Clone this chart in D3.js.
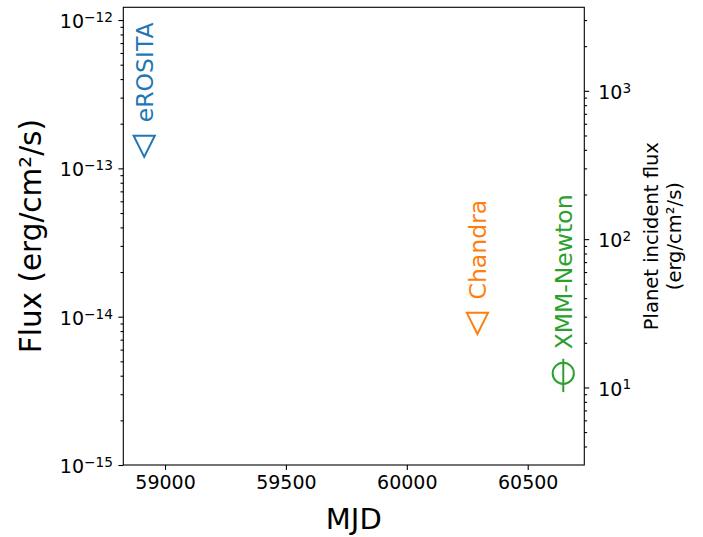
<!DOCTYPE html>
<html><head><meta charset="utf-8">
<script src="https://cdn.jsdelivr.net/npm/d3@7"></script>
<style>body{margin:0;background:#fff}svg{display:block;font-family:"DejaVu Sans",sans-serif}</style>
</head><body><svg id="c" width="703" height="537"></svg>
<script>
// Data
const instruments = ["eROSITA", "Chandra", "XMM-Newton"];
const mjd = [58914, 60292, 60647];
const flux = [1.41e-13, 9.0e-15, 4.15e-15];
const fluxErr = [0, 0, 1.05e-15];
const markers = ["triangle-down", "triangle-down", "circle"];
const colors = ["#1f77b4", "#ff7f0e", "#2ca02c"];
const xTicks = [59000, 59500, 60000, 60500];
const yMajor = [1e-15, 1e-14, 1e-13, 1e-12];
const yRMajor = [10, 100, 1000];
const fluxToPlanet = 3.0e15;

const svg = d3.select("#c");
const L = 123.3, R = 584.3, T = 7.3, B = 465;
const x = d3.scaleLinear().domain([58827.5, 60734]).range([L, R]);
const y = d3.scaleLog().domain([1e-15, Math.pow(10, -11.914)]).range([B, T]);
const yR = d3.scaleLog().domain(y.domain().map(v => v * fluxToPlanet)).range([B, T]);

function minors(scale) {
  const [a, b] = scale.domain();
  const out = [];
  for (let e = Math.floor(Math.log10(a)); e <= Math.ceil(Math.log10(b)); e++) {
    for (let m = 2; m <= 9; m++) {
      const v = m * Math.pow(10, e);
      if (v >= a && v <= b) out.push(v);
    }
  }
  return out;
}
const sup = e => String(e).replace("-", "\u2212");

// Axes
const tickFont = 19;
function styleAxis(g) {
  g.select(".domain").remove();
  g.selectAll("line").attr("stroke", "#000").attr("stroke-width", 1.1);
}
svg.append("g").attr("transform", `translate(${L},0)`)
  .call(d3.axisLeft(y).tickValues(minors(y)).tickSize(2.8).tickFormat(""))
  .call(styleAxis);
const gl = svg.append("g").attr("transform", `translate(${L},0)`)
  .call(d3.axisLeft(y).tickValues(yMajor).tickSize(4.9).tickPadding(5.5).tickFormat(""))
  .call(styleAxis);
gl.selectAll(".tick text").each(function(d) {
  const t = d3.select(this).attr("font-size", tickFont).attr("fill", "#000")
    .attr("font-family", "DejaVu Sans").attr("dy", "0.4em").text("");
  t.append("tspan").text("10");
  t.append("tspan").attr("dy", "-0.45em").attr("font-size", tickFont * 0.72).text(sup(Math.round(Math.log10(d))));
});
svg.append("g").attr("transform", `translate(${R},0)`)
  .call(d3.axisRight(yR).tickValues(minors(yR)).tickSize(2.8).tickFormat(""))
  .call(styleAxis);
const gr = svg.append("g").attr("transform", `translate(${R},0)`)
  .call(d3.axisRight(yR).tickValues(yRMajor).tickSize(4.9).tickPadding(9).tickFormat(""))
  .call(styleAxis);
gr.selectAll(".tick text").each(function(d) {
  const t = d3.select(this).attr("font-size", tickFont).attr("fill", "#000")
    .attr("font-family", "DejaVu Sans").attr("dy", "0.4em").text("");
  t.append("tspan").text("10");
  t.append("tspan").attr("dy", "-0.45em").attr("font-size", tickFont * 0.72).text(sup(Math.round(Math.log10(d))));
});
svg.append("g").attr("transform", `translate(0,${B})`)
  .call(d3.axisBottom(x).tickValues(xTicks).tickSize(4.9).tickPadding(6).tickFormat(d3.format("d")))
  .call(styleAxis)
  .call(g => g.selectAll("text").attr("font-size", tickFont).attr("fill", "#000").attr("font-family", "DejaVu Sans"));

// frame
svg.append("rect").attr("x", L).attr("y", T).attr("width", R - L).attr("height", B - T)
  .attr("fill", "none").attr("stroke", "#000").attr("stroke-width", 1.1);

// labels
svg.append("text").attr("x", (L + R) / 2).attr("y", 529).attr("text-anchor", "middle")
  .attr("font-size", 29).text("MJD");
svg.append("text").attr("transform", `translate(41,${(T + B) / 2}) rotate(-90)`).attr("text-anchor", "middle")
  .attr("font-size", 29.5).text("Flux (erg/cm\u00b2/s)");
const rl = svg.append("text").attr("transform", `translate(658,${(T + B) / 2}) rotate(-90)`).attr("text-anchor", "middle")
  .attr("font-size", 19.5);
rl.append("tspan").attr("x", 0).attr("dy", 0).text("Planet incident flux");
rl.append("tspan").attr("x", 0).attr("dy", 23).text("(erg/cm\u00b2/s)");

// markers
const ms = 10.6;
instruments.forEach((name, i) => {
  const cx = x(mjd[i]), cy = y(flux[i]), c = colors[i];
  if (fluxErr[i] > 0) {
    svg.append("line").attr("x1", cx).attr("x2", cx)
      .attr("y1", y(flux[i] - fluxErr[i])).attr("y2", y(flux[i] + fluxErr[i]))
      .attr("stroke", c).attr("stroke-width", 2);
  }
  if (markers[i] === "circle") {
    svg.append("circle").attr("cx", cx).attr("cy", cy).attr("r", ms).attr("fill", "none")
      .attr("stroke", c).attr("stroke-width", 2);
  } else {
    const p = d3.path();
    p.moveTo(cx - ms, cy - ms); p.lineTo(cx + ms, cy - ms); p.lineTo(cx, cy + ms); p.closePath();
    svg.append("path").attr("d", p.toString()).attr("fill", "none").attr("stroke", c)
      .attr("stroke-width", 2).attr("stroke-linejoin", "miter");
  }
  svg.append("text").attr("transform", `translate(${cx},${cy - 24}) rotate(-90)`)
    .attr("dy", "0.36em").attr("font-size", 23.5).attr("fill", c).text(name);
});
</script></body></html>
